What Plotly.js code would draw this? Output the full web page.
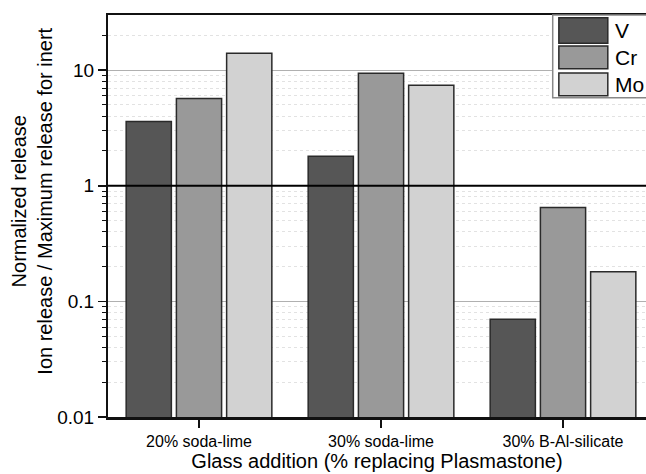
<!DOCTYPE html>
<html><head><meta charset="utf-8">
<script src="https://cdn.plot.ly/plotly-3.0.1.min.js"></script>
<style>html,body{margin:0;padding:0;overflow:hidden;background:#fff;width:646px;height:474px}</style>
</head><body>
<div id="chart" style="width:646px;height:474px"></div>
<script>
const categories = ["20% soda-lime", "30% soda-lime", "30% B-Al-silicate"];
const seriesNames = ["V", "Cr", "Mo"];
const valuesV = [3.6, 1.8, 0.070];
const valuesCr = [5.7, 9.4, 0.65];
const valuesMo = [14.0, 7.4, 0.18];
const yTickVals = [0.01, 0.1, 1, 10];
const yTickText = ["0.01", "0.1", "1", "10"];
const yMinorTickVals = [0.02, 0.03, 0.04, 0.05, 0.06, 0.07, 0.08, 0.09,
  0.2, 0.3, 0.4, 0.5, 0.6, 0.7, 0.8, 0.9,
  2, 3, 4, 5, 6, 7, 8, 9, 20];
const colors = ["#565656", "#999999", "#d2d2d2"];
const series = [valuesV, valuesCr, valuesMo];

const traces = series.map((vals, i) => ({
  type: "bar",
  x: categories,
  y: vals,
  name: seriesNames[i],
  marker: {color: colors[i], line: {color: "#2a2a2a", width: 1.5}},
  showlegend: false
}));

// custom legend drawn in paper coordinates
const shapes = [
  {type: "line", xref: "paper", yref: "y", x0: 0, x1: 1, y0: 1, y1: 1, line: {color: "#000", width: 1.8}},
  {type: "rect", xref: "paper", yref: "paper", x0: 0.8266, x1: 1.01, y0: 0.794, y1: 1.0, line: {color: "#888", width: 1.5}, fillcolor: "#fff", layer: "above"}
];
const annotations = [];
const swY = [[0.930, 0.993], [0.866, 0.923], [0.799, 0.856]];
seriesNames.forEach((n, i) => {
  shapes.push({type: "rect", xref: "paper", yref: "paper", x0: 0.838, x1: 0.929, y0: swY[i][0], y1: swY[i][1], fillcolor: colors[i], line: {color: "#2a2a2a", width: 1.5}, layer: "above"});
  annotations.push({xref: "paper", yref: "paper", x: 0.938, y: (swY[i][0] + swY[i][1]) / 2, text: n, showarrow: false, xanchor: "left", yanchor: "middle", font: {family: "Liberation Sans, Arial", size: 21, color: "#000"}});
});
annotations.push({xref: "paper", yref: "paper", x: -0.1403, y: 0.537, text: "Normalized release<br>Ion release / Maximum release for inert", textangle: -90, showarrow: false, xanchor: "center", yanchor: "middle", font: {family: "Liberation Sans, Arial", size: 20, color: "#000"}});

const layout = {
  width: 646, height: 474,
  margin: {l: 108, r: 0, t: 15, b: 57},
  paper_bgcolor: "#fff", plot_bgcolor: "#fff",
  barmode: "group", bargap: 0.172, bargroupgap: 0.1,
  font: {family: "Liberation Sans, Arial", color: "#000"},
  xaxis: {
    type: "category", range: [-0.5, 2.456],
    showline: true, linecolor: "#111", linewidth: 2.5, mirror: true,
    ticks: "outside", ticklen: 8, tickwidth: 1.5, tickcolor: "#111",
    tickfont: {size: 16}, showgrid: false,
    title: {text: "Glass addition (% replacing Plasmastone)", font: {size: 20}, standoff: 5}
  },
  yaxis: {
    type: "log", range: [-2, Math.log10(30)],
    tickvals: yTickVals, ticktext: yTickText,
    showline: true, linecolor: "#111", linewidth: 2, mirror: true,
    ticks: "outside", ticklen: 8, tickwidth: 1.5, tickcolor: "#111",
    tickfont: {size: 19},
    showgrid: true, gridcolor: "#b0b0b0", gridwidth: 1,
    zeroline: false,
    minor: {tickvals: yMinorTickVals, ticks: "outside", ticklen: 4, tickcolor: "#111", tickwidth: 1, showgrid: true, gridcolor: "#e2e2e2", griddash: "dot", gridwidth: 1}
  },
  shapes: shapes,
  annotations: annotations
};
Plotly.newPlot("chart", traces, layout, {displayModeBar: false, staticPlot: true});
</script>
</body></html>
